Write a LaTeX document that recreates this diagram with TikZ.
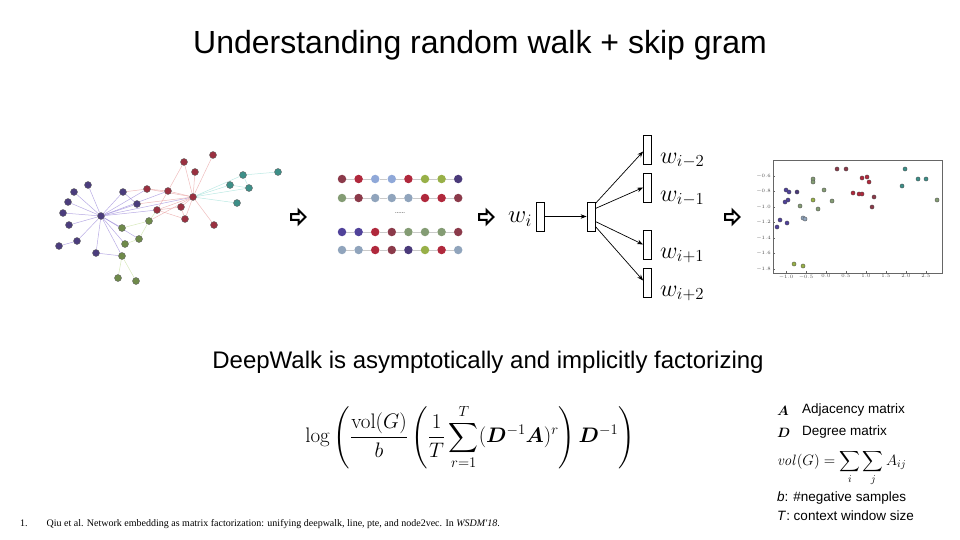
\RequirePackage{fix-cm}
\documentclass[tikz,border=0pt]{standalone}
\usepackage{amsmath}
\usepackage[no-math]{fontspec}
\setmainfont{Liberation Sans}
\newfontfamily\seriffont{Liberation Serif}
\usetikzlibrary{arrows.meta,calc}
\pgfdeclarelayer{bg}
\pgfsetlayers{bg,main}
\definecolor{cpur}{HTML}{4B3D7D}
\definecolor{cgrn}{HTML}{6F8A4A}
\definecolor{cred}{HTML}{9A3040}
\definecolor{cteal}{HTML}{3D8F88}
\definecolor{epur}{HTML}{9A88D8}
\definecolor{ered}{HTML}{E8A0A0}
\definecolor{egrn}{HTML}{C8E0A0}
\definecolor{eteal}{HTML}{A0E0D8}
\definecolor{sbrn}{HTML}{8B3A4A}
\definecolor{sred}{HTML}{B0283C}
\definecolor{slb}{HTML}{8FA8D8}
\definecolor{soli}{HTML}{98B048}
\definecolor{sdpu}{HTML}{4A3A7A}
\definecolor{sgg}{HTML}{849C74}
\definecolor{sgb}{HTML}{90A4BC}
\definecolor{spur}{HTML}{50429A}
\tikzset{
  gnode/.style={circle,inner sep=0pt,minimum size=7pt,draw=black!60,line width=0.4pt},
  gedge/.style={line width=0.5pt,opacity=0.7},
  sdot/.style={circle,inner sep=0pt,minimum size=8.5pt},
  sline/.style={line width=0.6pt,opacity=0.6},
  vecbox/.style={draw,line width=0.8pt,minimum width=8pt,minimum height=29pt,inner sep=0pt},
  sgarrow/.style={line width=0.7pt,-{Stealth[length=6pt,width=4.5pt]}},
  scpt/.style={circle,inner sep=0pt,minimum size=4.2pt,draw=black!70,line width=0.3pt},
  tick/.style={font=\fontsize{5}{5}\selectfont,text=black!70,inner sep=1pt},
  legend/.style={anchor=west,font=\fontsize{13.5}{16}\selectfont,inner sep=0pt},
  blockarrow/.pic={\draw[line width=2pt,line join=miter] (-7,-2.8)--(0.5,-2.8)--(0.5,-7)--(7.5,0)--(0.5,7)--(0.5,2.8)--(-7,2.8)--cycle;}
}
\begin{document}
\begin{tikzpicture}[x=1pt,y=-1pt]
\useasboundingbox (0,0) rectangle (960,540);
% title
\node[font=\fontsize{32}{38}\selectfont] (title) at (480,45) {Understanding random walk + skip gram};

% ---------- graph ----------
\foreach \n/\x/\y in {P0/101/216,p1/88/185,p2/74/192,p3/68/202,p4/63/213,p5/69/225,p6/77/241,p7/59/246,p8/96/253,p9/123/192,p10/137/204}
  \node[gnode,fill=cpur] (\n) at (\x,\y) {};
\foreach \n/\x/\y in {g1/122/228,g2/125/244,g3/139/239,g4/149/221,g5/122/256,g6/118/278,g7/136/281}
  \node[gnode,fill=cgrn] (\n) at (\x,\y) {};
\foreach \n/\x/\y in {R0/193/197,r1/147/189,r2/168/191,r3/157/210,r4/184/162,r5/213/155,r6/195/172,r7/181/207,r8/185/219,r9/214/225}
  \node[gnode,fill=cred] (\n) at (\x,\y) {};
\foreach \n/\x/\y in {t1/243/175,t2/230/185,t3/249/188,t4/237/203,t5/278/172}
  \node[gnode,fill=cteal] (\n) at (\x,\y) {};
\begin{pgfonlayer}{bg}
\foreach \a in {p1,p2,p3,p4,p5,p6,p8,p9,p10,g1,g2,g3,g5,r1,r3,r2,R0}
  \draw[gedge,epur] (P0) -- (\a);
\draw[gedge,epur] (p6) -- (p7);
\draw[gedge,epur] (p9) -- (p10);
\draw[gedge,epur] (p8) -- (g5);
\draw[gedge,egrn] (g5) -- (g6);
\draw[gedge,egrn] (g5) -- (g7);
\draw[gedge,egrn] (g3) -- (g4);
\draw[gedge,egrn] (g2) -- (g3);
\draw[gedge,egrn] (g4) -- (r3);
\draw[gedge,egrn] (g1) -- (g4);
\foreach \a in {r2,r3,r4,r5,r6,r7,r8,r9,r1,p10,g4}
  \draw[gedge,ered] (R0) -- (\a);
\draw[gedge,ered] (r1) -- (r2);
\draw[gedge,ered] (r2) -- (r4);
\draw[gedge,ered] (r3) -- (r7);
\draw[gedge,ered] (r2) -- (r3);
\draw[gedge,ered] (r7) -- (r8);
\draw[gedge,ered] (p9) -- (r1);
\draw[gedge,ered] (r3) -- (r8);
\foreach \a in {t1,t2,t3,t4}
  \draw[gedge,eteal] (R0) -- (\a);
\draw[gedge,eteal] (t1) -- (t5);
\draw[gedge,eteal] (t2) -- (t3);
\draw[gedge,eteal] (t1) -- (t3);
\end{pgfonlayer}

% arrows
\pic at (298,217) {blockarrow};
\pic at (486,217) {blockarrow};
\pic at (732,217) {blockarrow};

% ---------- random walk sequences ----------
\foreach \row/\y/\cols in {1/179/{sbrn,sred,slb,slb,sred,soli,soli,sdpu},
                            2/198/{sgg,sbrn,sgb,sgb,sgb,sred,sred,sbrn},
                            3/232/{spur,spur,sred,sbrn,sgg,sgg,sgg,sbrn},
                            4/250/{sgb,sgb,sred,sbrn,sdpu,soli,sred,sgb}}{
  \foreach \c [count=\k] in \cols {
    \node[sdot,fill=\c] (s\row-\k) at ({342+16.6*(\k-1)},\y) {};
  }
  \begin{pgfonlayer}{bg}
  \foreach \k [evaluate=\k as \kk using int(\k+1)] in {1,...,7}
    \draw[sline,black!35] (s\row-\k) -- (s\row-\kk);
  \end{pgfonlayer}
}
\node[font=\fontsize{6}{6}\selectfont,inner sep=0pt] (dots) at (400,213) {......};

% ---------- skip gram ----------
\node[font=\fontsize{25}{25}\selectfont,inner sep=0pt] (wi) at (520,219) {$w_i$};
\node[vecbox] (in) at (540,216.5) {};
\node[vecbox] (hid) at (591,216.5) {};
\node[vecbox] (o1) at (647.5,149.5) {};
\node[vecbox] (o2) at (647.5,187.5) {};
\node[vecbox] (o3) at (647.5,244.5) {};
\node[vecbox] (o4) at (647.5,282.5) {};
\draw[sgarrow] (in.east) -- (hid.west);
\draw[sgarrow] ([yshift=13pt]hid.east) -- ([yshift=-2pt]o1.west);
\draw[sgarrow] ([yshift=8pt]hid.east) -- (o2.west);
\draw[sgarrow] ([yshift=-5pt]hid.east) -- (o3.west);
\draw[sgarrow] ([yshift=-10pt]hid.east) -- ([yshift=2pt]o4.west);
\foreach \o/\t in {o1/{i-2},o2/{i-1},o3/{i+1},o4/{i+2}}
  \node[font=\fontsize{24}{24}\selectfont,anchor=west,inner sep=0pt] (l\o) at ([xshift=8pt,yshift=-11pt]\o.east) {$w_{\t}$};

% ---------- scatter ----------
\node[draw=black!60,line width=0.4pt,minimum width=169pt,minimum height=113pt,inner sep=0pt] (plot) at (857.5,216.5) {};
\foreach \v [count=\k] in {-0.6,-0.8,-1.0,-1.2,-1.4,-1.6,-1.8}{
  \node[tick,anchor=east] (yt\k) at (772,{176+15.5*(\k-1)}) {$\v$};
  \draw[black!60,line width=0.3pt] (773,{176+15.5*(\k-1)}) -- (775,{176+15.5*(\k-1)});
}
\foreach \v [count=\k] in {-1.0,-0.5,0.0,0.5,1.0,1.5,2.0,2.5}{
  \node[tick,anchor=north] (xt\k) at ({786+20*(\k-1)},273.5) {$\v$};
  \draw[black!60,line width=0.3pt] ({786+20*(\k-1)},273) -- ({786+20*(\k-1)},271);
}
\foreach \x/\y/\c [count=\k] in {837/169/sbrn,846/169/sbrn,862/178/sred,867/177/sred,869/182/sred,853/193/sred,859/194/sred,862/194/sred,874/197/sbrn,872/207/sbrn,
  905/169/cteal,918/179/cteal,926/179/cteal,902/186/cteal,937/200/sgg,
  813/179/sgg,813/182/sgg,824/190/sgg,813/200/soli,832/201/sgg,818/209/sgg,800/206/sgg,
  786/190/spur,789/192/spur,797/192/sdpu,788/200/spur,785/202/spur,803/218/sgb,805/219/sgb,780/220/spur,787/223/spur,777/227/spur,
  794/264/soli,803/266/soli}
  \node[scpt,fill=\c] (sc\k) at (\x,\y) {};

% ---------- bottom ----------
\node[font=\fontsize{24}{28}\selectfont] (sub) at (488,362) {DeepWalk is asymptotically and implicitly factorizing};
\node[font=\fontsize{21}{25}\selectfont] (formula) at (470,437)
  {$\displaystyle \log\left(\frac{\mathrm{vol}(G)}{b}\left(\frac{1}{T}\sum_{r=1}^{T}(\boldsymbol{D}^{-1}\boldsymbol{A})^{r}\right)\boldsymbol{D}^{-1}\right)$};

\node[legend] (la) at (777,411) {$\boldsymbol{A}$};
\node[legend] (lat) at (802,410) {Adjacency matrix};
\node[legend] (ld) at (777,433) {$\boldsymbol{D}$};
\node[legend] (ldt) at (802,432) {Degree matrix};
\node[legend,font=\fontsize{15}{18}\selectfont] (lvol) at (777,468) {$\displaystyle \mathit{vol}(G)=\sum_{i}\sum_{j}A_{ij}$};
\node[legend] (lb) at (777,498) {\textit{b}: \#negative samples};
\node[legend] (lt) at (777,516) {\textit{T}: context window size};

\node[anchor=west,font=\seriffont\fontsize{10}{12}\selectfont,inner sep=0pt] (foot) at (20,524)
  {1.\hspace{1.9em}Qiu et al. Network embedding as matrix factorization: unifying deepwalk, line, pte, and node2vec. In \textit{WSDM'18}.};
\end{tikzpicture}
\end{document}
